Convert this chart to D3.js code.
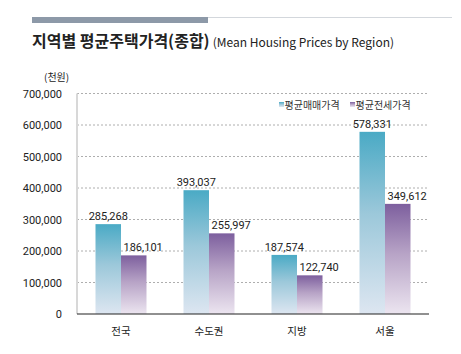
<!DOCTYPE html>
<html><head><meta charset="utf-8">
<script src="https://cdn.jsdelivr.net/npm/d3@7"></script>
<style>body{margin:0;background:#fff}svg{display:block}text{font-family:"Noto Sans CJK KR","Noto Sans",sans-serif}</style>
</head><body>
<svg id="c" width="461" height="354"></svg>
<script>
const categories = ["전국", "수도권", "지방", "서울"];
const seriesNames = ["평균매매가격", "평균전세가격"];
const saleValues = [285268, 393037, 187574, 578331];
const jeonseValues = [186101, 255997, 122740, 349612];
const yTicks = [0, 100000, 200000, 300000, 400000, 500000, 600000, 700000];

const svg = d3.select("#c");
const defs = svg.append("defs");
function grad(id, top, mid, bot) {
  const g = defs.append("linearGradient").attr("id", id).attr("x1", 0).attr("y1", 0).attr("x2", 0).attr("y2", 1);
  g.append("stop").attr("offset", "0%").attr("stop-color", top);
  g.append("stop").attr("offset", "45%").attr("stop-color", mid);
  g.append("stop").attr("offset", "100%").attr("stop-color", bot);
}
grad("gSale", "#4aaac5", "#9cc8da", "#dde6f1");
grad("gJeonse", "#7d5f9e", "#b7a3c6", "#ece5f0");

// header bar
svg.append("rect").attr("x", 32).attr("y", 17).attr("width", 420).attr("height", 1).attr("fill", "#d3d7dc");
svg.append("rect").attr("x", 32).attr("y", 17).attr("width", 176).attr("height", 6).attr("fill", "#8d99a8");

// title
const title = svg.append("text").attr("x", 32).attr("y", 47).attr("fill", "#222");
title.append("tspan").attr("font-size", 16).attr("font-weight", "bold").text("지역별 평균주택가격(종합)");
title.append("tspan").attr("font-size", 12).attr("dx", 3).text("(Mean Housing Prices by Region)");

const margin = {left: 77, right: 429, top: 93.5, bottom: 314};
const y = d3.scaleLinear().domain([0, 700000]).range([margin.bottom, margin.top]);
const x0 = d3.scaleBand().domain(categories).range([margin.left, margin.right]);
const x1 = d3.scaleBand().domain(seriesNames).range([0, 51]);
const offset = (x0.bandwidth() - 51) / 2;

// gridlines
svg.append("g").selectAll("line").data(yTicks.filter(d => d > 0)).join("line")
  .attr("x1", margin.left).attr("x2", margin.right)
  .attr("y1", d => y(d)).attr("y2", d => y(d))
  .attr("stroke", "#999").attr("stroke-width", 0.8).attr("stroke-dasharray", "2,2");

// y axis labels
const yAxis = svg.append("g").attr("transform", `translate(${margin.left - 12},0)`)
  .call(d3.axisLeft(y).tickValues(yTicks).tickFormat(d3.format(",")).tickSize(0));
yAxis.select(".domain").remove();
yAxis.selectAll("text").attr("font-size", 11).attr("fill", "#222").attr("dx", 0).attr("dy", "0.35em")
  .style("font-family", "Roboto, 'Noto Sans', sans-serif");

// y axis line
svg.append("line").attr("x1", margin.left).attr("x2", margin.left).attr("y1", margin.top).attr("y2", margin.bottom)
  .attr("stroke", "#d8d8d8").attr("stroke-width", 2);

svg.append("text").attr("x", 44).attr("y", 81).attr("font-size", 10).attr("fill", "#222").text("(천원)");

// bars
const data = categories.map((c, i) => ({c, vals: [
  {s: seriesNames[0], v: saleValues[i], f: "url(#gSale)"},
  {s: seriesNames[1], v: jeonseValues[i], f: "url(#gJeonse)"}]}));
const groups = svg.append("g").selectAll("g").data(data).join("g")
  .attr("transform", d => `translate(${x0(d.c) + offset},0)`);
groups.selectAll("rect").data(d => d.vals).join("rect")
  .attr("x", d => x1(d.s)).attr("width", x1.bandwidth())
  .attr("y", d => y(d.v)).attr("height", d => y(0) - y(d.v))
  .attr("fill", d => d.f);
groups.selectAll("text").data(d => d.vals).join("text")
  .attr("x", d => d.s === seriesNames[1] ? x1(d.s) + 2.5 : x1(d.s) + x1.bandwidth() / 2)
  .attr("y", d => y(d.v) - 4)
  .attr("text-anchor", d => d.s === seriesNames[1] ? "start" : "middle")
  .attr("font-size", 11).attr("fill", "#222")
  .style("font-family", "Roboto, 'Noto Sans', sans-serif")
  .text(d => d3.format(",")(d.v));

// baseline
svg.append("line").attr("x1", margin.left).attr("x2", margin.right).attr("y1", y(0)).attr("y2", y(0))
  .attr("stroke", "#222").attr("stroke-width", 1.2);

// x labels
const xAxis = svg.append("g").attr("transform", `translate(0,${y(0)})`)
  .call(d3.axisBottom(x0).tickSize(0).tickPadding(14));
xAxis.select(".domain").remove();
xAxis.selectAll("text").attr("font-size", 10.5).attr("fill", "#222");

// legend
const legendX = [279, 350];
const leg = svg.append("g").selectAll("g").data(seriesNames).join("g")
  .attr("transform", (d, i) => `translate(${legendX[i]},105)`);
leg.append("rect").attr("x", 0).attr("y", -3).attr("width", 5).attr("height", 5)
  .attr("fill", (d, i) => i === 0 ? "url(#gSale)" : "url(#gJeonse)");
leg.append("text").attr("x", 5.5).attr("y", 0).attr("dy", "0.35em").attr("font-size", 10).attr("fill", "#333").text(d => d);
</script>
</body></html>
